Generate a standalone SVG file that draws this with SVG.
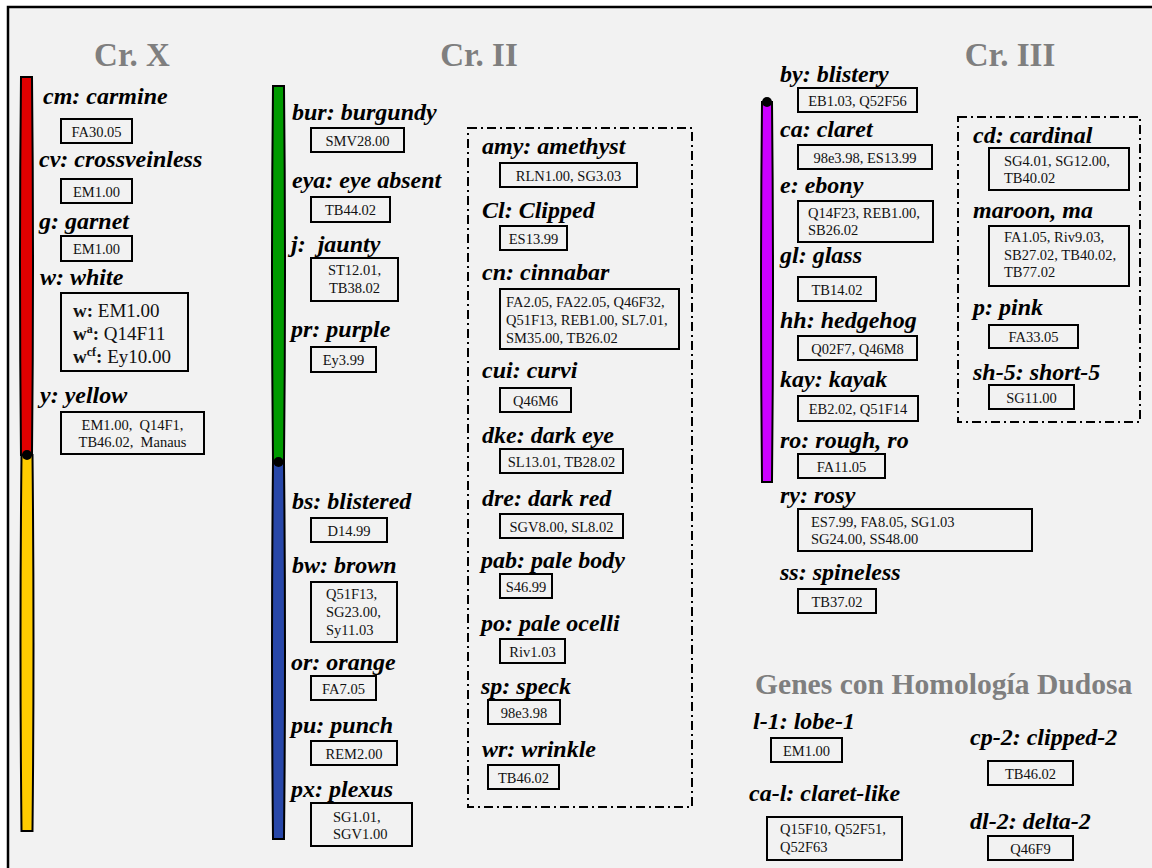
<svg xmlns="http://www.w3.org/2000/svg" width="1152" height="868" viewBox="0 0 1152 868">
<style>
.title{font-family:"Liberation Serif",serif;font-weight:bold;font-size:33px;fill:#7f7f7f;text-anchor:middle}
.sub{font-family:"Liberation Serif",serif;font-weight:bold;font-size:29.6px;fill:#7f7f7f}
.lbl{font-family:"Liberation Serif",serif;font-weight:bold;font-style:italic;font-size:24px;fill:#000}
.bx{fill:none;stroke:#000;stroke-width:2}
.bt{font-family:"Liberation Serif",serif;font-size:14.5px;fill:#111}
.c{text-anchor:middle}
.wt{font-family:"Liberation Serif",serif;font-size:19px;fill:#111}
.dash{fill:none;stroke:#000;stroke-width:2;stroke-dasharray:9 4 2 4}
.arm{stroke:#000;stroke-width:2}
</style>
<rect x="0" y="0" width="1152" height="868" fill="#fff"/>
<rect x="8" y="7" width="1200" height="900" fill="#f2f2f2" stroke="#000" stroke-width="2.5"/>

<g id="titles">
<text class="title" x="132" y="66">Cr. X</text>
<text class="title" x="479" y="66">Cr. II</text>
<text class="title" x="1010" y="66">Cr. III</text>
<text class="sub" x="755" y="694">Genes con Homología Dudosa</text>
</g>

<g id="chromosomes">
<g id="chrX">
<path class="arm" fill="#e00000" d="M21,77 L32,77 Q34,266 32,455 L21,455 Q19,266 21,77 Z"/>
<path class="arm" fill="#ffcc00" d="M21.5,455 L32.5,455 Q34.5,643 32.5,831 L21.5,831 Q19.5,643 21.5,455 Z"/>
<circle cx="27" cy="455" r="5" fill="#000"/>
</g>
<g id="chrII">
<path class="arm" fill="#009a00" d="M273,86 L284,86 Q286,274 284,462 L273,462 Q271,274 273,86 Z"/>
<path class="arm" fill="#2847a8" d="M273,462 L284,462 Q286,650 284,839 L273,839 Q271,650 273,462 Z"/>
<circle cx="278.5" cy="462" r="5" fill="#000"/>
</g>
<g id="chrIII">
<path class="arm" fill="#cc00ff" d="M762,102 L772,102 Q774,292 772,482 L762,482 Q760,292 762,102 Z"/>
<circle cx="767" cy="102" r="5" fill="#000"/>
</g>
</g>

<g id="groups">
<rect class="dash" x="468" y="128" width="224" height="679"/>
<rect class="dash" x="958" y="117" width="182" height="305"/>
</g>

<!-- Cr. X -->
<g id="cm"><text class="lbl" x="43" y="104">cm: carmine</text><rect class="bx" x="61" y="119" width="71" height="24"/><text class="bt c" x="96.5" y="136.5">FA30.05</text></g>
<g id="cv"><text class="lbl" x="39" y="167">cv: crossveinless</text><rect class="bx" x="61" y="179" width="71" height="24"/><text class="bt c" x="96.5" y="196.5">EM1.00</text></g>
<g id="g"><text class="lbl" x="39" y="229">g: garnet</text><rect class="bx" x="61" y="236" width="71" height="25"/><text class="bt c" x="96.5" y="253.5">EM1.00</text></g>
<g id="w"><text class="lbl" x="40" y="285">w: white</text><rect class="bx" x="61" y="293" width="127" height="78"/>
<text class="wt" x="73" y="317"><tspan font-weight="bold">w:</tspan> EM1.00</text>
<text class="wt" x="73" y="340"><tspan font-weight="bold">w<tspan font-size="12" dy="-7">a</tspan><tspan dy="7">:</tspan></tspan> Q14F11</text>
<text class="wt" x="73" y="363"><tspan font-weight="bold">w<tspan font-size="12" dy="-7">cf</tspan><tspan dy="7">:</tspan></tspan> Ey10.00</text></g>
<g id="y"><text class="lbl" x="40" y="403">y: yellow</text><rect class="bx" x="61" y="412" width="143" height="42"/>
<text class="bt c" x="132.5" y="430" xml:space="preserve">EM1.00,  Q14F1,</text><text class="bt c" x="132.5" y="447" xml:space="preserve">TB46.02,  Manaus</text></g>

<!-- Cr. II -->
<g id="bur"><text class="lbl" x="292" y="120">bur: burgundy</text><rect class="bx" x="311" y="128" width="93" height="24"/><text class="bt c" x="357.5" y="145.5">SMV28.00</text></g>
<g id="eya"><text class="lbl" x="292" y="188">eya: eye absent</text><rect class="bx" x="311" y="197" width="79" height="25"/><text class="bt c" x="350.5" y="214.5">TB44.02</text></g>
<g id="j"><text class="lbl" x="291" y="252" xml:space="preserve">j:  jaunty</text><rect class="bx" x="311" y="258" width="87" height="43"/><text class="bt c" x="354.5" y="275">ST12.01,</text><text class="bt c" x="354.5" y="293">TB38.02</text></g>
<g id="pr"><text class="lbl" x="291" y="337">pr: purple</text><rect class="bx" x="311" y="347" width="65" height="25"/><text class="bt c" x="343.5" y="364.5">Ey3.99</text></g>
<g id="bs"><text class="lbl" x="292" y="509">bs: blistered</text><rect class="bx" x="311" y="518" width="76" height="24"/><text class="bt c" x="349" y="535.5">D14.99</text></g>
<g id="bw"><text class="lbl" x="292" y="573">bw: brown</text><rect class="bx" x="311" y="582" width="86" height="60"/><text class="bt" x="326" y="599">Q51F13,</text><text class="bt" x="326" y="617">SG23.00,</text><text class="bt" x="326" y="635">Sy11.03</text></g>
<g id="or"><text class="lbl" x="291" y="670">or: orange</text><rect class="bx" x="311" y="676" width="65" height="24"/><text class="bt c" x="343.5" y="693.5">FA7.05</text></g>
<g id="pu"><text class="lbl" x="291" y="733">pu: punch</text><rect class="bx" x="311" y="741" width="86" height="24"/><text class="bt c" x="354" y="758.5">REM2.00</text></g>
<g id="px"><text class="lbl" x="291" y="797">px: plexus</text><rect class="bx" x="311" y="803" width="101" height="43"/><text class="bt" x="333" y="822">SG1.01,</text><text class="bt" x="333" y="839">SGV1.00</text></g>

<g id="amy"><text class="lbl" x="482" y="154">amy: amethyst</text><rect class="bx" x="500" y="163" width="137" height="24"/><text class="bt c" x="568.5" y="180.5">RLN1.00, SG3.03</text></g>
<g id="Cl"><text class="lbl" x="482" y="218">Cl: Clipped</text><rect class="bx" x="500" y="226" width="67" height="24"/><text class="bt c" x="533.5" y="243.5">ES13.99</text></g>
<g id="cn"><text class="lbl" x="482" y="280">cn: cinnabar</text><rect class="bx" x="500" y="289" width="179" height="60"/><text class="bt" x="506" y="307">FA2.05, FA22.05, Q46F32,</text><text class="bt" x="506" y="325">Q51F13, REB1.00, SL7.01,</text><text class="bt" x="506" y="343">SM35.00, TB26.02</text></g>
<g id="cui"><text class="lbl" x="482" y="378">cui: curvi</text><rect class="bx" x="500" y="388" width="71" height="24"/><text class="bt c" x="535.5" y="405.5">Q46M6</text></g>
<g id="dke"><text class="lbl" x="482" y="443">dke: dark eye</text><rect class="bx" x="500" y="449" width="123" height="24"/><text class="bt c" x="561.5" y="466.5">SL13.01, TB28.02</text></g>
<g id="dre"><text class="lbl" x="482" y="506">dre: dark red</text><rect class="bx" x="500" y="514" width="123" height="24"/><text class="bt c" x="561.5" y="531.5">SGV8.00, SL8.02</text></g>
<g id="pab"><text class="lbl" x="481" y="568">pab: pale body</text><rect class="bx" x="500" y="574" width="52" height="24"/><text class="bt c" x="526" y="591.5">S46.99</text></g>
<g id="po"><text class="lbl" x="481" y="631">po: pale ocelli</text><rect class="bx" x="500" y="639" width="65" height="24"/><text class="bt c" x="532.5" y="656.5">Riv1.03</text></g>
<g id="sp"><text class="lbl" x="481" y="694">sp: speck</text><rect class="bx" x="488" y="700" width="72" height="24"/><text class="bt c" x="524" y="717.5">98e3.98</text></g>
<g id="wr"><text class="lbl" x="482" y="757">wr: wrinkle</text><rect class="bx" x="488" y="765" width="71" height="24"/><text class="bt c" x="523.5" y="782.5">TB46.02</text></g>

<!-- Cr. III -->
<g id="by"><text class="lbl" x="780" y="82">by: blistery</text><rect class="bx" x="798" y="88" width="119" height="24"/><text class="bt c" x="857.5" y="105.5">EB1.03, Q52F56</text></g>
<g id="ca"><text class="lbl" x="780" y="137">ca: claret</text><rect class="bx" x="798" y="145" width="134" height="24"/><text class="bt c" x="865" y="162.5">98e3.98, ES13.99</text></g>
<g id="e"><text class="lbl" x="780" y="193">e: ebony</text><rect class="bx" x="798" y="201" width="135" height="41"/><text class="bt" x="808" y="218">Q14F23, REB1.00,</text><text class="bt" x="808" y="235">SB26.02</text></g>
<g id="gl"><text class="lbl" x="780" y="263">gl: glass</text><rect class="bx" x="798" y="277" width="78" height="24"/><text class="bt c" x="837" y="294.5">TB14.02</text></g>
<g id="hh"><text class="lbl" x="780" y="328">hh: hedgehog</text><rect class="bx" x="798" y="336" width="119" height="24"/><text class="bt c" x="857.5" y="353.5">Q02F7, Q46M8</text></g>
<g id="kay"><text class="lbl" x="780" y="387">kay: kayak</text><rect class="bx" x="798" y="396" width="120" height="25"/><text class="bt c" x="858" y="413.5">EB2.02, Q51F14</text></g>
<g id="ro"><text class="lbl" x="780" y="448">ro: rough, ro</text><rect class="bx" x="798" y="454" width="87" height="24"/><text class="bt c" x="841.5" y="471.5">FA11.05</text></g>
<g id="ry"><text class="lbl" x="780" y="503">ry: rosy</text><rect class="bx" x="798" y="509" width="234" height="42"/><text class="bt" x="811" y="527">ES7.99, FA8.05, SG1.03</text><text class="bt" x="811" y="544">SG24.00, SS48.00</text></g>
<g id="ss"><text class="lbl" x="780" y="580">ss: spineless</text><rect class="bx" x="798" y="589" width="78" height="24"/><text class="bt c" x="837" y="606.5">TB37.02</text></g>

<g id="cd"><text class="lbl" x="973" y="143">cd: cardinal</text><rect class="bx" x="989" y="148" width="140" height="42"/><text class="bt" x="1004" y="166">SG4.01, SG12.00,</text><text class="bt" x="1004" y="183">TB40.02</text></g>
<g id="ma"><text class="lbl" x="973" y="218">maroon, ma</text><rect class="bx" x="989" y="226" width="140" height="60"/><text class="bt" x="1004" y="242">FA1.05, Riv9.03,</text><text class="bt" x="1004" y="260">SB27.02, TB40.02,</text><text class="bt" x="1004" y="277">TB77.02</text></g>
<g id="p"><text class="lbl" x="973" y="315">p: pink</text><rect class="bx" x="989" y="325" width="89" height="23"/><text class="bt c" x="1033.5" y="342">FA33.05</text></g>
<g id="sh5"><text class="lbl" x="973" y="380">sh-5: short-5</text><rect class="bx" x="989" y="385" width="85" height="24"/><text class="bt c" x="1031.5" y="402.5">SG11.00</text></g>

<!-- Dudosa -->
<g id="l1"><text class="lbl" x="753" y="729">l-1: lobe-1</text><rect class="bx" x="771" y="738" width="71" height="24"/><text class="bt c" x="806.5" y="755.5">EM1.00</text></g>
<g id="cal"><text class="lbl" x="749" y="801">ca-l: claret-like</text><rect class="bx" x="767" y="817" width="135" height="43"/><text class="bt" x="780" y="834">Q15F10, Q52F51,</text><text class="bt" x="780" y="852">Q52F63</text></g>
<g id="cp2"><text class="lbl" x="970" y="745">cp-2: clipped-2</text><rect class="bx" x="988" y="761" width="85" height="24"/><text class="bt c" x="1030.5" y="778.5">TB46.02</text></g>
<g id="dl2"><text class="lbl" x="970" y="829">dl-2: delta-2</text><rect class="bx" x="988" y="836" width="85" height="24"/><text class="bt c" x="1030.5" y="853.5">Q46F9</text></g>

<g id="connectors"></g>
</svg>
